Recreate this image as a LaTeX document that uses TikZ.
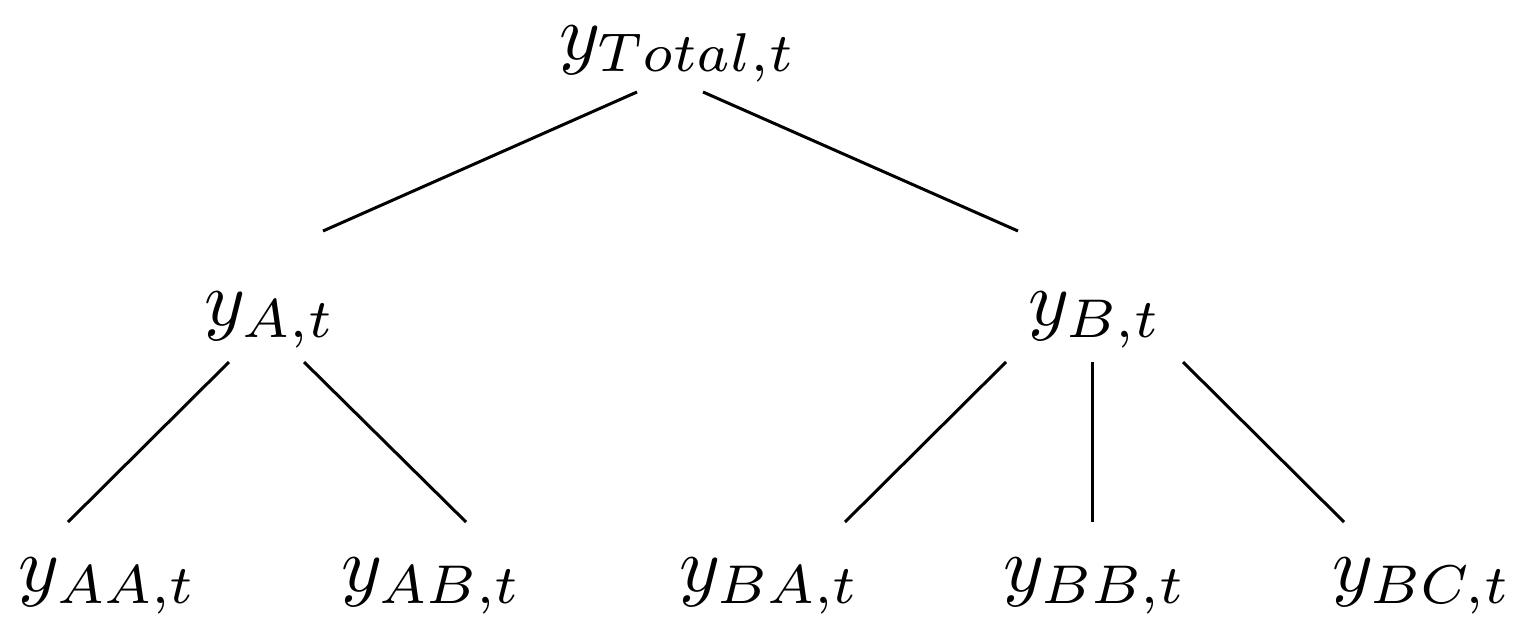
\documentclass[tikz,border=0pt]{standalone}
\begin{document}
\begin{tikzpicture}[x=1pt,y=-1pt,lab/.style={scale=7.8,inner sep=0pt},edge/.style={line width=3pt}]
\useasboundingbox (0,0) rectangle (1529,638);
\node[lab] (tot) at (678,54) {$y_{Total,t}$};
\node[lab] (a) at (270,320) {$y_{A,t}$};
\node[lab] (b) at (1095,320) {$y_{B,t}$};
\node[lab] (aa) at (108,586) {$y_{AA,t}$};
\node[lab] (ab) at (432,586) {$y_{AB,t}$};
\node[lab] (ba) at (770,586) {$y_{BA,t}$};
\node[lab] (bb) at (1095,586) {$y_{BB,t}$};
\node[lab] (bc) at (1422,586) {$y_{BC,t}$};
\coordinate (t1) at (637,92); \coordinate (t2) at (703,92);
\coordinate (a0) at (323,231); \coordinate (b0) at (1018,231);
\coordinate (a1) at (229,362); \coordinate (a2) at (304,362);
\coordinate (aa0) at (68,522); \coordinate (ab0) at (466,522);
\coordinate (b1) at (1006,362); \coordinate (b2) at (1092,362); \coordinate (b3) at (1183,362);
\coordinate (ba0) at (845,522); \coordinate (bb0) at (1092,522); \coordinate (bc0) at (1344,522);
\draw[edge] (t1) -- (a0);
\draw[edge] (t2) -- (b0);
\draw[edge] (a1) -- (aa0);
\draw[edge] (a2) -- (ab0);
\draw[edge] (b1) -- (ba0);
\draw[edge] (b2) -- (bb0);
\draw[edge] (b3) -- (bc0);
\end{tikzpicture}
\end{document}
